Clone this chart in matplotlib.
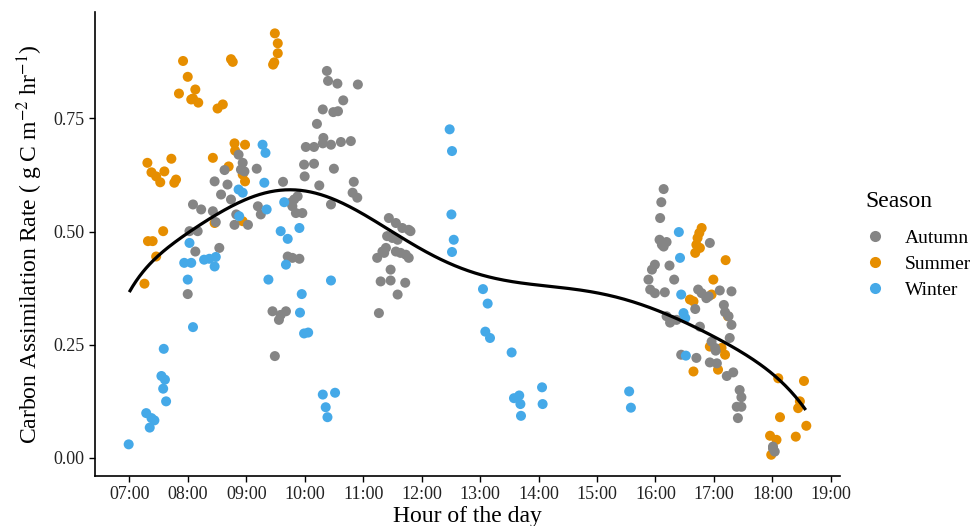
import matplotlib
matplotlib.use("Agg")
import matplotlib.pyplot as plt
from matplotlib.lines import Line2D
import numpy as np

plt.rcParams['font.family'] = ['Liberation Serif', 'DejaVu Serif']
plt.rcParams['mathtext.fontset'] = 'stix'

# ---- data (hour of day, carbon assimilation rate) ----
summer_hour = [7.31, 7.72, 7.38, 7.60, 7.53, 7.77, 7.80, 7.46,
               7.32, 7.40, 7.58, 7.46, 7.26,
               7.92, 8.74, 8.77, 8.00, 7.85, 8.13, 8.09, 8.18, 8.06, 8.51, 8.60,
               9.49, 9.54, 9.54, 9.46, 9.48,
               8.80, 8.98, 8.81, 8.43, 8.70, 8.98, 8.94, 8.46, 8.94,
               16.79, 16.75, 16.72, 16.70, 16.68, 16.76, 17.20, 16.99, 16.96, 16.59,
               16.65, 17.24, 16.93, 17.13, 17.19, 17.07, 16.65,
               18.10, 18.54, 18.47, 18.44, 18.13, 18.58, 18.40, 17.96, 18.07, 17.98]
summer_rate = [0.652, 0.661, 0.631, 0.633, 0.609, 0.608, 0.615, 0.622,
               0.479, 0.479, 0.501, 0.445, 0.385,
               0.877, 0.881, 0.875, 0.842, 0.805, 0.814, 0.794, 0.785, 0.792, 0.772, 0.781,
               0.938, 0.916, 0.894, 0.869, 0.874,
               0.695, 0.692, 0.679, 0.663, 0.644, 0.611, 0.626, 0.519, 0.523,
               0.508, 0.497, 0.486, 0.471, 0.453, 0.464, 0.437, 0.394, 0.361, 0.350,
               0.346, 0.313, 0.246, 0.243, 0.228, 0.195, 0.191,
               0.176, 0.170, 0.125, 0.110, 0.090, 0.071, 0.047, 0.049, 0.040, 0.007]

autumn_hour = [10.38, 10.40, 10.56, 10.91, 10.66, 10.31, 10.49, 10.57, 10.21,
               10.02, 10.16, 10.32, 10.31, 10.45, 10.62, 10.79,
               9.99, 10.16, 10.50, 10.00, 10.25, 9.63, 10.84, 10.82, 10.90, 10.45,
               9.82, 9.79, 9.85, 9.96, 9.88, 9.76,
               9.18, 9.20, 9.25,
               8.87, 8.94, 8.97, 8.91, 8.63, 8.46, 8.68, 8.57, 8.74,
               8.09, 8.23, 8.43, 8.48, 8.83, 8.80, 9.03, 8.03, 8.17, 8.13, 8.54, 8.00,
               9.71, 9.79, 9.91, 9.45, 9.56, 9.68, 9.49, 9.59,
               11.44, 11.56, 11.67, 11.78, 11.81, 11.41, 11.50, 11.59, 11.39, 11.33,
               11.24, 11.56, 11.64, 11.73, 11.78, 11.47, 11.30, 11.47, 11.72, 11.59,
               11.27, 11.36,
               16.14, 16.10, 16.08, 16.07, 16.11, 16.19, 16.14, 16.93, 15.99, 15.94,
               15.88, 15.91, 15.99, 16.24, 16.32, 16.16, 16.73, 16.79, 16.87, 16.91,
               17.10, 17.30, 17.17, 17.19, 17.25, 16.68, 16.19, 16.28, 16.36, 16.25,
               16.76, 17.30, 17.27, 16.96, 17.02, 17.03, 16.44, 16.70, 16.93, 17.05,
               17.22, 17.33, 17.44, 17.47, 17.39, 17.47, 17.41, 18.01, 18.04, 18.01]
autumn_rate = [0.855, 0.833, 0.827, 0.825, 0.790, 0.770, 0.764, 0.766, 0.738,
               0.687, 0.687, 0.707, 0.695, 0.692, 0.698, 0.700,
               0.648, 0.650, 0.639, 0.622, 0.602, 0.610, 0.610, 0.586, 0.575, 0.560,
               0.571, 0.556, 0.541, 0.541, 0.578, 0.564,
               0.639, 0.556, 0.538,
               0.670, 0.652, 0.633, 0.637, 0.636, 0.611, 0.604, 0.582, 0.571,
               0.560, 0.549, 0.545, 0.521, 0.538, 0.515, 0.515, 0.501, 0.501, 0.456, 0.464, 0.362,
               0.445, 0.442, 0.440, 0.324, 0.305, 0.324, 0.225, 0.316,
               0.530, 0.519, 0.508, 0.504, 0.501, 0.490, 0.486, 0.482, 0.464, 0.456,
               0.442, 0.456, 0.453, 0.449, 0.442, 0.416, 0.390, 0.392, 0.387, 0.361,
               0.320, 0.453,
               0.594, 0.565, 0.530, 0.482, 0.471, 0.477, 0.467, 0.475, 0.427, 0.416,
               0.394, 0.372, 0.364, 0.425, 0.394, 0.366, 0.372, 0.364, 0.353, 0.357,
               0.370, 0.368, 0.338, 0.322, 0.313, 0.329, 0.313, 0.305, 0.305, 0.299,
               0.290, 0.294, 0.265, 0.257, 0.243, 0.237, 0.228, 0.221, 0.211, 0.209,
               0.181, 0.189, 0.150, 0.134, 0.113, 0.113, 0.088, 0.021, 0.014, 0.025]

winter_hour = [6.99, 7.35, 7.29, 7.38, 7.43, 7.63, 7.58, 7.55, 7.61, 7.59,
               8.09, 8.00, 7.94, 8.06, 8.03, 8.28, 8.37, 8.48, 8.46,
               8.88, 8.87, 8.94, 9.35, 9.31, 9.28, 9.33, 9.65, 9.59, 9.71, 9.91,
               9.68, 9.38, 9.95, 9.92, 9.99, 10.06, 10.45, 10.31, 10.52, 10.36, 10.39,
               12.48, 12.52, 12.51, 12.55, 12.52,
               13.05, 13.13, 13.09, 13.17, 13.54, 13.58, 13.67, 13.69, 13.70, 14.06, 14.07,
               15.55, 15.58,
               16.40, 16.42, 16.44, 16.48, 16.51, 16.52]
winter_rate = [0.030, 0.067, 0.099, 0.088, 0.083, 0.125, 0.153, 0.181, 0.173, 0.241,
               0.289, 0.394, 0.431, 0.431, 0.475, 0.438, 0.440, 0.444, 0.423,
               0.534, 0.593, 0.586, 0.549, 0.608, 0.692, 0.674, 0.565, 0.501, 0.484, 0.508,
               0.427, 0.394, 0.362, 0.321, 0.275, 0.277, 0.392, 0.140, 0.144, 0.112, 0.090,
               0.726, 0.678, 0.538, 0.482, 0.455,
               0.373, 0.341, 0.279, 0.265, 0.233, 0.132, 0.138, 0.119, 0.093, 0.156, 0.119,
               0.147, 0.111,
               0.499, 0.442, 0.361, 0.320, 0.309, 0.226]

# smoothed trend
fit_hour = [7.00, 7.38, 7.66, 8.00, 8.28, 8.55, 8.85, 9.42, 9.88, 10.28, 10.45,
            10.79, 11.02, 11.59, 12.16, 12.68, 13.25, 13.81, 14.38, 14.95, 15.52,
            16.10, 16.38, 16.76, 17.33, 17.90, 18.47, 18.57]
fit_rate = [0.368, 0.427, 0.467, 0.498, 0.523, 0.542, 0.562, 0.586, 0.589, 0.582, 0.575,
            0.552, 0.545, 0.490, 0.449, 0.417, 0.394, 0.387, 0.379, 0.368, 0.346,
            0.320, 0.305, 0.287, 0.246, 0.195, 0.121, 0.108]

seasons = ["Autumn", "Summer", "Winter"]
colors = {"Autumn": "#858585", "Summer": "#E68E00", "Winter": "#45A9E8"}
x_ticks = [7, 8, 9, 10, 11, 12, 13, 14, 15, 16, 17, 18, 19]
x_tick_labels = ["07:00", "08:00", "09:00", "10:00", "11:00", "12:00", "13:00",
                 "14:00", "15:00", "16:00", "17:00", "18:00", "19:00"]
y_ticks = [0.0, 0.25, 0.5, 0.75]
y_tick_labels = ["0.00", "0.25", "0.50", "0.75"]

fig = plt.figure(figsize=(9.77, 5.26), dpi=100)
ax = fig.add_axes([0.097, 0.095, 0.763, 0.882])

data = {"Autumn": (autumn_hour, autumn_rate),
        "Summer": (summer_hour, summer_rate),
        "Winter": (winter_hour, winter_rate)}
for s in ["Summer", "Autumn", "Winter"]:
    hx, hy = data[s]
    ax.scatter(hx, hy, s=52, color=colors[s], edgecolors='none', zorder=2)

# smooth trend line: polynomial smoother through the read trend values
fh = np.array(fit_hour)
c0, sc = fh.mean(), (fh.max() - fh.min()) / 2
coef = np.polyfit((fh - c0) / sc, fit_rate, 9)
xs = np.linspace(fh.min(), fh.max(), 400)
ax.plot(xs, np.polyval(coef, (xs - c0) / sc), color='black', lw=2.3, zorder=3,
        solid_capstyle='butt')

ax.set_xlim(6.41, 19.16)
ax.set_ylim(-0.04, 0.985)
ax.set_xticks(x_ticks)
ax.set_xticklabels(x_tick_labels)
ax.set_yticks(y_ticks)
ax.set_yticklabels(y_tick_labels)
ax.tick_params(axis='both', labelsize=13, length=4, width=1, color='black',
               labelcolor='#222222', direction='out')
for side in ['top', 'right']:
    ax.spines[side].set_visible(False)
for side in ['left', 'bottom']:
    ax.spines[side].set_linewidth(1.2)
    ax.spines[side].set_color('black')

ax.set_xlabel("Hour of the day", fontsize=17, labelpad=2)
ax.set_ylabel("Carbon Assimilation Rate ( g C m$^{-2}$ hr$^{-1}$)", fontsize=17, labelpad=6)

fig.text(0.886, 0.616, "Season", fontsize=17, ha='left', va='center')
handles = [Line2D([], [], marker='o', linestyle='none', markersize=8,
                  markerfacecolor=colors[s], markeredgecolor='none') for s in seasons]
leg = fig.legend(handles, seasons, loc='center left',
                 bbox_to_anchor=(0.884, 0.498), frameon=False, fontsize=14,
                 handletextpad=0.9, labelspacing=0.42, borderaxespad=0,
                 borderpad=0, handlelength=1.2)

fig.savefig("out.png", dpi=100)
